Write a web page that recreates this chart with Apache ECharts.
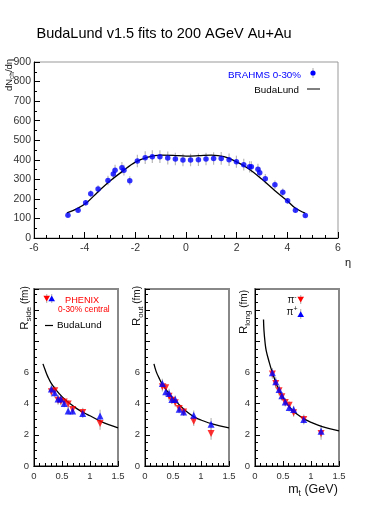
<!DOCTYPE html>
<html><head><meta charset="utf-8">
<script src="https://cdn.jsdelivr.net/npm/echarts@6/dist/echarts.min.js"></script>
<style>html,body{margin:0;padding:0;background:#fff}#c{width:374px;height:529px}</style>
</head><body><div id="c"></div>
<script>
// ---------- DATA ----------
// Top panel: BRAHMS dN/deta, 0-30%
const eta = [-4.66,-4.26,-3.96,-3.76,-3.47,-3.08,-2.87,-2.80,-2.53,-2.45,-2.22,-1.92,-1.61,-1.33,-1.03,-0.72,-0.42,-0.12,0.18,0.49,0.79,1.09,1.39,1.70,1.99,2.28,2.51,2.58,2.84,2.91,3.13,3.51,3.82,4.01,4.32,4.71];
const dndeta = [116,142,180,226,250,294,327,346,359,347,293,394,411,416,416,409,404,399,399,400,404,406,407,400,390,375,364,364,352,334,303,272,234,190,142,115];
const dndetaErr = [9,11,14,18,20,24,26,28,29,28,23,32,33,33,33,33,32,32,32,32,32,32,33,32,31,30,29,29,28,27,24,22,19,15,11,9];
// BudaLund curve (top)
const budaEta = [-4.7,-4.3,-3.9,-3.5,-3.0,-2.5,-2.0,-1.5,-1.0,-0.5,0,0.5,1.0,1.5,2.0,2.5,3.0,3.5,4.0,4.3,4.7];
const budaDn  = [128,150,183,233,291,342,388,414,424,423,419,421,424,416,389,352,300,243,190,155,127];

// Bottom panels: PHENIX HBT radii vs m_t
const mtPts = [0.31,0.37,0.43,0.48,0.54,0.61,0.69,0.87,1.18];
const radErr = [0.3,0.3,0.3,0.25,0.25,0.25,0.25,0.3,0.4];
const rsideMinus = [4.76,4.82,4.22,4.15,4.11,3.97,3.62,3.43,2.72];
const rsidePlus  = [4.93,4.69,4.29,4.29,4.01,3.53,3.53,3.37,3.21];
const routMinus  = [5.08,5.01,4.48,4.22,4.05,3.69,3.47,2.87,2.08];
const routPlus   = [5.29,4.76,4.65,4.27,4.27,3.64,3.47,3.26,2.68];
const rlongMinus = [5.90,5.29,4.82,4.44,4.07,3.90,3.41,2.98,2.08];
const rlongPlus  = [5.98,5.40,4.91,4.50,4.11,3.75,3.62,2.98,2.23];
// BudaLund curves (bottom)
const curveMt    = [0.16,0.2,0.25,0.3,0.4,0.5,0.6,0.7,0.8,0.9,1.0,1.2,1.5];
const rsideCurve = [6.55,6.15,5.7,5.35,4.85,4.45,4.12,3.85,3.6,3.4,3.22,2.85,2.45];
const routCurve  = [6.55,6.05,5.65,5.3,4.78,4.35,3.97,3.62,3.33,3.1,2.95,2.7,2.44];
const rlongMt    = [0.152,0.16,0.18,0.2,0.25,0.3,0.4,0.5,0.6,0.7,0.8,0.9,1.0,1.2,1.5];
const rlongCurve = [9.4,8.7,7.9,7.4,6.7,6.1,5.1,4.4,3.85,3.47,3.2,2.97,2.8,2.53,2.25];

// x/y tick labels
const topXTicks = [-6,-4,-2,0,2,4,6];
const botYLabelMax = 6;

// ---------- CHART ----------
const FONT = '"Liberation Sans", Arial, Helvetica, sans-serif';
const zip = (a,b) => a.map((v,i)=>[v,b[i]]);
const zip3 = (a,b,c) => a.map((v,i)=>[v,b[i],c[i]]);

function errSeries(xi, data){
  return {
    type:'custom', xAxisIndex:xi, yAxisIndex:xi, z:1, silent:true,
    data: data,
    encode:{x:0, y:1},
    renderItem:(params, api)=>{
      const x=api.value(0), y=api.value(1), e=api.value(2);
      const p1=api.coord([x,y-e]), p2=api.coord([x,y+e]);
      return {type:'line', shape:{x1:p1[0],y1:p1[1],x2:p2[0],y2:p2[1]}, style:{stroke:'#b8b8b8', lineWidth:1.2}};
    }
  };
}

const grids = [
  {left:34, top:62, width:304, height:176, show:true, borderColor:'#999', borderWidth:1},
  {left:34, top:289, width:84, height:177, show:true, borderColor:'#888', borderWidth:2},
  {left:145, top:289, width:84, height:177, show:true, borderColor:'#888', borderWidth:2},
  {left:255, top:289, width:84, height:177, show:true, borderColor:'#888', borderWidth:2}
];

const xAxes = [
  {gridIndex:0, type:'value', min:-6, max:6, interval:2,
   axisLine:{onZero:false, lineStyle:{color:'#000', width:1}},
   axisTick:{inside:true, length:6, lineStyle:{color:'#000'}},
   minorTick:{show:true, splitNumber:4, length:3, lineStyle:{color:'#000'}},
   splitLine:{show:false},
   axisLabel:{fontFamily:FONT, fontSize:10.5, color:'#333', margin:5,
     formatter:v=> topXTicks.includes(v) ? String(v) : ''}}
];
const yAxes = [
  {gridIndex:0, type:'value', min:0, max:900, interval:100,
   axisLine:{onZero:false, lineStyle:{color:'#000', width:1}},
   axisTick:{inside:true, length:6, lineStyle:{color:'#000'}},
   minorTick:{show:true, splitNumber:2, length:3, lineStyle:{color:'#000'}},
   splitLine:{show:false},
   axisLabel:{fontFamily:FONT, fontSize:10.5, color:'#333', margin:3}}
];
for (let i=1;i<=3;i++){
  xAxes.push({gridIndex:i, type:'value', min:0, max:1.5, interval:0.5,
    axisLine:{onZero:false, lineStyle:{color:'#000', width:1}},
    axisTick:{inside:true, length:5, lineStyle:{color:'#000'}},
    minorTick:{show:true, splitNumber:5, length:3, lineStyle:{color:'#000'}},
    splitLine:{show:false},
    axisLabel:{fontFamily:FONT, fontSize:9.5, color:'#333', margin:5, showMaxLabel:true}});
  yAxes.push({gridIndex:i, type:'value', min:0, max:11.35, interval:2,
    axisLine:{onZero:false, lineStyle:{color:'#000', width:1}},
    axisTick:{inside:true, length:5, lineStyle:{color:'#000'}},
    minorTick:{show:true, splitNumber:4, length:3, lineStyle:{color:'#000'}},
    splitLine:{show:false},
    axisLabel:{fontFamily:FONT, fontSize:9.5, color:'#333', margin:5, showMaxLabel:false,
      formatter:v=> v<=botYLabelMax ? String(v) : ''}});
}

const series = [
  errSeries(0, zip3(eta, dndeta, dndetaErr)),
  {type:'line', xAxisIndex:0, yAxisIndex:0, data:zip(budaEta,budaDn), smooth:0.35, symbol:'none',
   lineStyle:{color:'#000', width:1.3}, z:2, silent:true},
  {type:'scatter', xAxisIndex:0, yAxisIndex:0, data:zip(eta,dndeta), symbol:'circle', symbolSize:5.5,
   itemStyle:{color:'#0000ff'}, z:3, silent:true}
];
const panels = [
  [rsideMinus, rsidePlus, curveMt, rsideCurve],
  [routMinus, routPlus, curveMt, routCurve],
  [rlongMinus, rlongPlus, rlongMt, rlongCurve]
];
panels.forEach((p, k)=>{
  const i = k+1;
  series.push(errSeries(i, zip3(mtPts, p[0], radErr)));
  series.push(errSeries(i, zip3(mtPts, p[1], radErr)));
  series.push({type:'line', xAxisIndex:i, yAxisIndex:i, data:zip(p[2],p[3]), smooth:0.4, symbol:'none',
    lineStyle:{color:'#000', width:1.3}, z:2, silent:true});
  series.push({type:'scatter', xAxisIndex:i, yAxisIndex:i, data:zip(mtPts,p[0]), symbol:'triangle', symbolRotate:180,
    symbolSize:7, itemStyle:{color:'#ff0000'}, z:3, silent:true});
  series.push({type:'scatter', xAxisIndex:i, yAxisIndex:i, data:zip(mtPts,p[1]), symbol:'triangle',
    symbolSize:7, itemStyle:{color:'#0000ff'}, z:4, silent:true});
});

function txt(x, y, text, size, color, align, extra){
  return Object.assign({type:'text', x:x, y:y, z:100, silent:true,
    style:{text:text, fontFamily:FONT, fontSize:size, fill:color||'#000',
      textAlign:align||'left', align:align||'left', textVerticalAlign:'middle', verticalAlign:'middle'}}, extra||{});
}
function richTxt(x, y, text, rich, align, rot){
  return {type:'text', x:x, y:y, z:100, silent:true, rotation:rot||0,
    style:{text:text, rich:rich, fontFamily:FONT, fill:'#000',
      textAlign:align||'center', align:align||'center', textVerticalAlign:'middle', verticalAlign:'middle'}};
}
const rYName = () => ({
  a:{fontFamily:FONT, fontSize:11.5, fill:'#111', color:'#111', lineHeight:15},
  b:{fontFamily:FONT, fontSize:8, fill:'#111', color:'#111', lineHeight:8, verticalAlign:'bottom'},
  c:{fontFamily:FONT, fontSize:10, fill:'#111', color:'#111', lineHeight:15}
});
function tri(cx, cy, s, down, color){
  const pts = down ? [[cx-s,cy-s*0.8],[cx+s,cy-s*0.8],[cx,cy+s*0.9]] : [[cx-s,cy+s*0.8],[cx+s,cy+s*0.8],[cx,cy-s*0.9]];
  return {type:'polygon', z:100, silent:true, shape:{points:pts}, style:{fill:color}};
}
function vline(x, y1, y2){
  return {type:'line', z:99, silent:true, shape:{x1:x,y1:y1,x2:x,y2:y2}, style:{stroke:'#b8b8b8', lineWidth:1.2}};
}

const graphic = [
  txt(36.5, 33.5, 'BudaLund v1.5 fits to 200 AGeV Au+Au', 14.5, '#000', 'left'),
  // top legend
  txt(301, 75, 'BRAHMS 0-30%', 9.8, '#0000ff', 'right'),
  vline(313, 68, 78),
  {type:'circle', z:100, silent:true, shape:{cx:313, cy:73, r:2.6}, style:{fill:'#0000ff'}},
  txt(299, 90, 'BudaLund', 9.8, '#000', 'right'),
  {type:'line', z:100, silent:true, shape:{x1:307,y1:89,x2:320,y2:89}, style:{stroke:'#000', lineWidth:1}},
  // top axis names
  richTxt(9, 75, '{a|dN}{b|ch}{a|/dη}', {
    a:{fontFamily:FONT, fontSize:9.5, fill:'#111', color:'#111', lineHeight:13},
    b:{fontFamily:FONT, fontSize:6.5, fill:'#111', color:'#111', lineHeight:6, verticalAlign:'bottom'}
  }, 'center', Math.PI/2),
  txt(348, 263, 'η', 11, '#111', 'center'),
  // panel 1 legend
  vline(46.7, 294, 303), tri(46.7, 298.5, 3.3, true, '#ff0000'),
  vline(51.7, 294, 303), tri(51.7, 298.5, 3.3, false, '#0000ff'),
  txt(65, 300.5, 'PHENIX', 9.2, '#ff0000', 'left'),
  txt(58, 310, '0-30% central', 8.4, '#ff0000', 'left'),
  {type:'line', z:100, silent:true, shape:{x1:45,y1:325.5,x2:53,y2:325.5}, style:{stroke:'#000', lineWidth:1.2}},
  txt(57, 325.5, 'BudaLund', 9.8, '#000', 'left'),
  // panel 3 legend
  richTxt(292, 300, '{a|π}{b|-}', {
    a:{fontFamily:FONT, fontSize:10, fill:'#111', color:'#111', lineHeight:12},
    b:{fontFamily:FONT, fontSize:7, fill:'#111', color:'#111', lineHeight:7, verticalAlign:'top'}
  }, 'center', 0),
  vline(300.7, 295, 304), tri(300.7, 299.5, 3.3, true, '#ff0000'),
  richTxt(292, 312, '{a|π}{b|+}', {
    a:{fontFamily:FONT, fontSize:10, fill:'#111', color:'#111', lineHeight:12},
    b:{fontFamily:FONT, fontSize:7, fill:'#111', color:'#111', lineHeight:7, verticalAlign:'top'}
  }, 'center', 0),
  vline(300.7, 309, 319), tri(300.7, 314.3, 3.3, false, '#0000ff'),
  // bottom y names
  richTxt(25, 308, '{a|R}{b|side}{c| (fm)}', rYName(), 'center', Math.PI/2),
  richTxt(137, 306, '{a|R}{b|out}{c| (fm)}', rYName(), 'center', Math.PI/2),
  richTxt(244, 312, '{a|R}{b|long}{c| (fm)}', rYName(), 'center', Math.PI/2),
  // m_t label
  richTxt(313, 490, '{a|m}{b|t}{a| (GeV)}', {
    a:{fontFamily:FONT, fontSize:12.5, fill:'#111', color:'#111', lineHeight:16},
    b:{fontFamily:FONT, fontSize:8.5, fill:'#111', color:'#111', lineHeight:8, verticalAlign:'bottom'}
  }, 'center', 0)
];

const chart = echarts.init(document.getElementById('c'), null, {renderer:'canvas'});
chart.setOption({
  animation:false,
  backgroundColor:'#fff',
  grid:grids, xAxis:xAxes, yAxis:yAxes, series:series, graphic:graphic
});
</script></body></html>
